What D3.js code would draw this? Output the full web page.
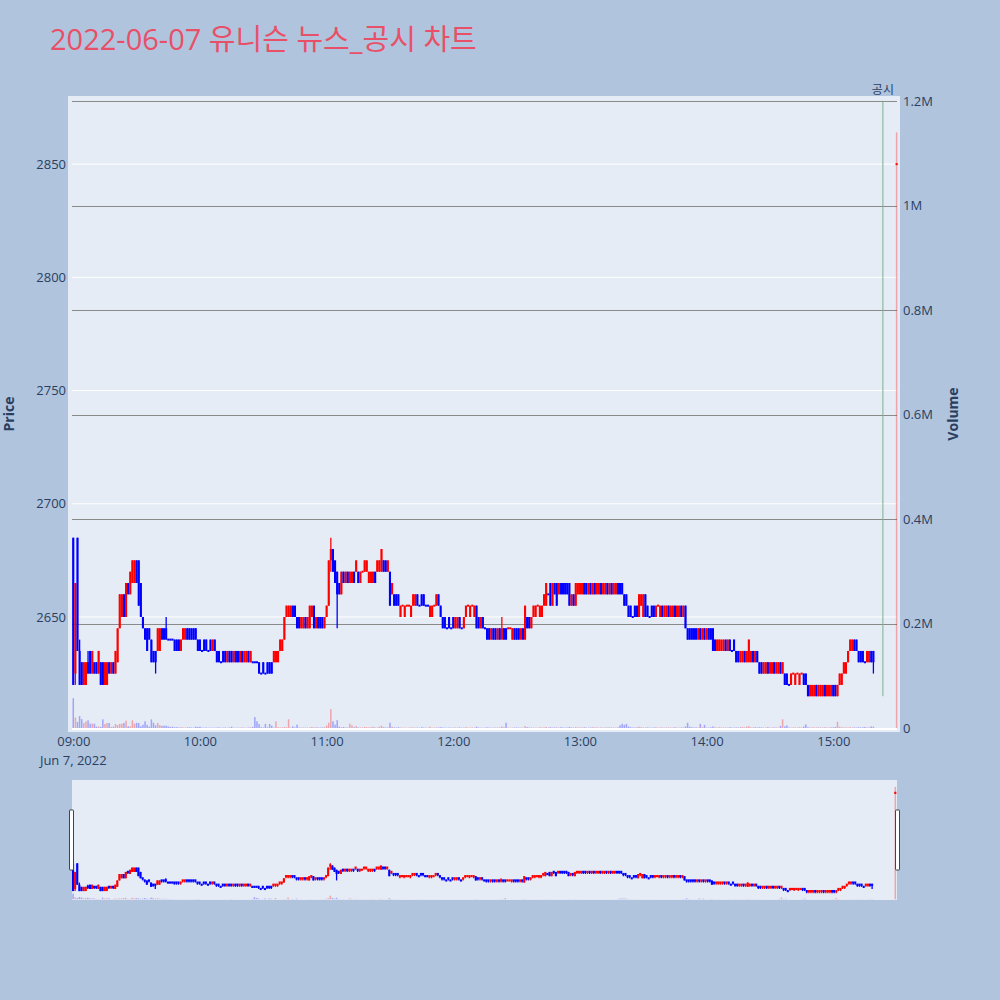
<!DOCTYPE html>
<html><head><meta charset="utf-8">
<script src="https://cdn.jsdelivr.net/npm/d3@7"></script>
<style>body{margin:0;background:#b0c4de;} svg{display:block;}</style>
</head><body><svg id="chart" width="1000" height="1000"></svg>
<script>
// ---------------- DATA ----------------
const titleText = "2022-06-07 유니슨 뉴스_공시 차트";
const sessionStart = "2022-06-07 09:00";
const opens = [
2685,2625,2685,2635,2630,2620,2620,2630,2635,2625, 2630,2630,2625,2630,2630,2620,2620,2630,2625,2630,
2625,2630,2645,2650,2660,2650,2665,2660,2665,2665, 2675,2675,2665,2650,2645,2645,2645,2640,2635,2635,
2635,2635,2645,2645,2645,2640,2640,2640,2640,2640, 2640,2635,2640,2640,2645,2645,2645,2645,2645,2640,
2640,2635,2640,2640,2635,2640,2635,2640,2635,2635, 2630,2635,2635,2630,2635,2635,2630,2635,2635,2630,
2635,2630,2630,2635,2630,2630,2630,2630,2630,2625, 2630,2625,2630,2630,2630,2630,2630,2630,2635,2635,
2640,2650,2650,2650,2655,2655,2650,2650,2645,2645, 2650,2645,2645,2650,2655,2645,2650,2650,2650,2645,
2650,2655,2675,2680,2675,2670,2665,2660,2670,2665, 2670,2665,2665,2670,2670,2670,2665,2670,2670,2670,
2665,2665,2665,2670,2670,2670,2670,2675,2675,2670, 2670,2660,2660,2660,2660,2650,2655,2650,2655,2655,
2650,2655,2655,2660,2655,2660,2660,2655,2655,2650, 2650,2655,2655,2660,2655,2650,2650,2645,2650,2645,
2650,2645,2645,2650,2645,2645,2650,2655,2650,2655, 2650,2655,2650,2645,2650,2645,2645,2645,2640,2645,
2645,2640,2645,2640,2645,2645,2645,2645,2640,2645, 2645,2645,2640,2645,2640,2650,2650,2645,2650,2650,
2655,2650,2650,2655,2655,2660,2665,2655,2665,2665, 2660,2665,2665,2665,2665,2665,2655,2660,2655,2660,
2660,2660,2665,2665,2660,2665,2660,2665,2660,2660, 2665,2660,2660,2665,2660,2665,2660,2660,2665,2665,
2665,2660,2660,2655,2655,2650,2655,2655,2650,2655, 2650,2660,2655,2650,2655,2655,2650,2655,2650,2655,
2650,2650,2655,2650,2650,2655,2650,2650,2655,2650, 2655,2645,2645,2645,2645,2645,2640,2645,2640,2645,
2640,2645,2645,2645,2640,2635,2635,2635,2635,2640, 2635,2640,2635,2640,2635,2635,2630,2630,2635,2630,
2630,2630,2635,2630,2635,2630,2630,2625,2625,2630, 2625,2625,2630,2625,2625,2630,2625,2625,2625,2620,
2620,2625,2620,2625,2620,2625,2625,2625,2620,2615, 2615,2615,2620,2615,2615,2615,2620,2615,2615,2615,
2620,2620,2615,2620,2620,2625,2625,2630,2635,2635, 2640,2640,2635,2635,2635,2630,2630,2630,2635,2635];
const highs = [
2685,2665,2685,2640,2630,2630,2630,2635,2635,2635, 2630,2630,2635,2630,2630,2630,2630,2630,2630,2630,
2635,2645,2660,2660,2660,2665,2665,2670,2675,2675, 2675,2675,2665,2650,2645,2645,2645,2640,2635,2635,
2645,2645,2645,2645,2650,2640,2640,2640,2640,2640, 2640,2640,2645,2645,2645,2645,2645,2645,2645,2640,
2640,2635,2640,2640,2635,2640,2640,2640,2635,2635, 2630,2635,2635,2635,2635,2635,2635,2635,2635,2635,
2635,2635,2635,2635,2635,2630,2630,2630,2630,2625, 2630,2625,2630,2630,2630,2635,2635,2635,2640,2640,
2650,2655,2655,2655,2655,2655,2650,2650,2650,2650, 2650,2650,2655,2655,2655,2650,2650,2650,2650,2650,
2655,2675,2685,2680,2675,2670,2665,2670,2670,2670, 2670,2670,2670,2670,2675,2670,2670,2670,2675,2675,
2670,2670,2670,2670,2675,2675,2680,2675,2675,2675, 2670,2665,2660,2660,2660,2655,2655,2655,2655,2655,
2655,2660,2660,2660,2655,2660,2660,2655,2655,2655, 2655,2655,2660,2660,2655,2650,2650,2645,2650,2645,
2650,2650,2650,2650,2645,2650,2655,2655,2655,2655, 2655,2655,2650,2650,2650,2645,2645,2645,2645,2645,
2645,2645,2645,2650,2645,2645,2645,2645,2645,2645, 2645,2645,2645,2645,2655,2650,2650,2650,2655,2655,
2655,2655,2655,2660,2665,2660,2665,2665,2665,2665, 2665,2665,2665,2665,2665,2665,2660,2660,2665,2665,
2665,2665,2665,2665,2665,2665,2665,2665,2665,2665, 2665,2665,2665,2665,2665,2665,2665,2665,2665,2665,
2665,2660,2660,2655,2655,2650,2655,2655,2660,2660, 2660,2660,2655,2650,2655,2655,2655,2655,2655,2655,
2655,2655,2655,2655,2655,2655,2655,2655,2655,2655, 2655,2645,2645,2645,2645,2645,2645,2645,2645,2645,
2645,2645,2645,2645,2640,2640,2640,2640,2640,2640, 2640,2640,2635,2640,2635,2635,2635,2635,2635,2635,
2640,2635,2635,2635,2635,2630,2630,2630,2630,2630, 2630,2630,2630,2630,2630,2630,2630,2625,2625,2620,
2625,2625,2625,2625,2625,2625,2625,2625,2620,2620, 2620,2620,2620,2620,2620,2620,2620,2620,2620,2620,
2620,2620,2620,2625,2625,2630,2630,2635,2640,2640, 2640,2640,2635,2635,2635,2630,2635,2635,2635,2635];
const lows = [
2620,2620,2635,2620,2620,2620,2620,2625,2625,2625, 2625,2625,2625,2620,2620,2620,2620,2625,2625,2625,
2625,2630,2645,2650,2650,2650,2660,2660,2665,2665, 2665,2655,2650,2645,2640,2635,2640,2630,2630,2625,
2635,2635,2640,2640,2640,2640,2640,2640,2635,2635, 2635,2635,2640,2640,2640,2640,2640,2640,2640,2635,
2635,2635,2635,2635,2635,2635,2635,2635,2630,2630, 2630,2630,2630,2630,2630,2630,2630,2630,2630,2630,
2630,2630,2630,2630,2630,2630,2630,2630,2625,2625, 2625,2625,2625,2625,2625,2630,2630,2630,2635,2635,
2640,2650,2650,2650,2650,2650,2645,2645,2645,2645, 2645,2645,2645,2650,2645,2645,2645,2645,2645,2645,
2650,2655,2670,2670,2665,2645,2660,2660,2665,2665, 2665,2665,2665,2665,2670,2665,2665,2670,2670,2670,
2665,2665,2665,2665,2670,2670,2670,2670,2670,2670, 2655,2660,2655,2655,2655,2650,2655,2650,2655,2655,
2650,2655,2655,2655,2655,2655,2655,2655,2655,2650, 2650,2655,2655,2655,2650,2645,2645,2645,2645,2645,
2645,2645,2645,2645,2645,2645,2650,2655,2650,2655, 2650,2645,2645,2645,2645,2645,2640,2640,2640,2640,
2640,2640,2640,2640,2640,2640,2645,2645,2640,2640, 2640,2640,2640,2640,2640,2645,2645,2645,2650,2650,
2655,2650,2650,2655,2655,2660,2655,2655,2660,2655, 2660,2660,2660,2660,2660,2655,2655,2655,2655,2660,
2660,2660,2660,2660,2660,2660,2660,2660,2660,2660, 2660,2660,2660,2660,2660,2660,2660,2660,2660,2660,
2660,2655,2655,2650,2650,2650,2650,2650,2650,2655, 2650,2650,2650,2650,2650,2650,2650,2655,2650,2650,
2650,2650,2650,2650,2650,2650,2650,2650,2650,2650, 2645,2640,2640,2640,2640,2640,2640,2640,2640,2640,
2640,2640,2640,2635,2635,2635,2635,2635,2635,2635, 2635,2635,2635,2635,2630,2630,2630,2630,2630,2630,
2630,2630,2630,2630,2630,2625,2625,2625,2625,2625, 2625,2625,2625,2625,2625,2625,2625,2620,2620,2620,
2620,2625,2620,2625,2620,2625,2620,2620,2615,2615, 2615,2615,2615,2615,2615,2615,2615,2615,2615,2615,
2615,2615,2615,2620,2620,2625,2625,2630,2635,2635, 2635,2635,2630,2630,2630,2630,2630,2630,2630,2625];
const closes = [
2620,2665,2635,2620,2620,2630,2630,2625,2625,2635, 2625,2625,2635,2620,2620,2630,2630,2625,2630,2625,
2635,2645,2660,2660,2650,2665,2660,2670,2675,2675, 2665,2655,2650,2645,2640,2635,2640,2630,2630,2630,
2645,2645,2640,2640,2640,2640,2640,2640,2635,2635, 2635,2640,2645,2645,2640,2640,2640,2640,2640,2635,
2635,2635,2635,2635,2635,2635,2640,2635,2630,2630, 2630,2630,2630,2635,2630,2630,2635,2630,2630,2635,
2630,2635,2635,2630,2635,2630,2630,2630,2625,2625, 2625,2625,2625,2625,2625,2635,2635,2635,2640,2640,
2650,2655,2655,2655,2650,2650,2645,2645,2650,2650, 2645,2650,2655,2655,2645,2650,2645,2645,2645,2650,
2655,2675,2680,2670,2665,2660,2660,2670,2665,2670, 2665,2670,2670,2665,2675,2665,2670,2670,2675,2675,
2670,2670,2670,2665,2675,2675,2680,2670,2670,2675, 2655,2665,2655,2655,2655,2655,2655,2655,2655,2655,
2655,2660,2660,2655,2655,2655,2655,2655,2655,2655, 2655,2655,2660,2655,2650,2645,2645,2645,2645,2645,
2645,2650,2650,2645,2645,2650,2655,2655,2655,2655, 2655,2645,2645,2650,2645,2645,2640,2640,2645,2640,
2640,2645,2640,2645,2640,2640,2645,2645,2645,2640, 2640,2640,2645,2640,2655,2645,2645,2650,2655,2655,
2655,2655,2655,2660,2665,2660,2655,2665,2660,2655, 2665,2660,2660,2660,2660,2655,2660,2655,2665,2665,
2665,2665,2660,2660,2665,2660,2665,2660,2665,2665, 2660,2665,2665,2660,2665,2660,2665,2665,2660,2660,
2660,2655,2655,2650,2650,2650,2650,2650,2660,2660, 2660,2650,2650,2650,2650,2650,2655,2655,2655,2650,
2655,2655,2650,2655,2655,2650,2655,2655,2650,2655, 2645,2640,2640,2640,2640,2640,2645,2640,2645,2640,
2645,2640,2640,2635,2635,2640,2640,2640,2640,2635, 2640,2635,2635,2635,2630,2630,2635,2635,2630,2635,
2640,2635,2630,2635,2630,2625,2625,2630,2630,2625, 2630,2630,2625,2630,2630,2625,2630,2620,2620,2620,
2625,2625,2625,2625,2625,2625,2620,2620,2615,2620, 2620,2620,2615,2620,2620,2620,2615,2620,2620,2620,
2615,2615,2620,2625,2625,2630,2630,2635,2640,2640, 2635,2635,2630,2630,2630,2630,2635,2635,2630,2630];
const volumes = [
57000,20000,11500,23000,17000,9600,12800,14700,8300,8300, 8300,2500,3000,2000,16600,7700,9600,9600,2000,2500,
7700,5700,7700,8300,9600,14000,3200,3200,14700,8300, 10000,9600,3200,6400,12800,6000,2500,16600,10000,5100,
10000,5700,4000,4500,4500,3000,2000,2500,1500,1500, 1000,1500,1200,800,1000,1500,900,700,2500,2000,
2500,800,600,1000,500,700,900,600,800,1200, 500,700,1000,600,900,2500,700,500,600,800,
1000,700,600,900,1200,2000,21000,12800,7700,1500, 1000,7700,1200,7700,4500,1000,12800,1500,900,1100,
2000,1500,16600,1000,3200,1200,6400,900,800,1000, 700,600,1200,2000,900,1500,1000,800,1200,1500,
4500,10000,36000,12800,6400,15000,2500,1500,2000,1200, 1000,8300,5000,1500,3500,1200,1000,900,2000,1500,
1200,1500,2500,1000,900,2500,4500,1500,1000,1200, 10000,2500,1200,800,1500,900,600,700,500,800,
1200,1000,700,900,500,1500,1000,600,500,2500, 700,800,1200,900,1500,1000,700,500,900,500,
800,1000,700,1200,600,900,1500,800,700,1000, 600,2500,1000,800,500,700,1200,900,800,600,
700,1000,800,3000,1200,10000,600,500,800,900, 1000,700,800,600,3500,1500,1000,800,900,700,
600,1500,800,1200,2000,700,1500,1000,1200,900, 800,1500,1000,700,900,2000,1200,800,1500,1000,
1200,900,1500,800,700,1000,1500,900,1200,800, 1000,700,1200,800,1500,900,1000,700,1200,5000,
8000,6000,8000,3000,1500,1000,900,1200,2500,1500, 1000,800,1200,700,600,1000,1500,800,1000,900,
700,1200,800,1000,900,1500,700,800,1000,1200, 3000,10000,2500,1500,1000,1200,900,8000,1500,6000,
1000,800,1200,3000,1000,800,1500,1200,900,700, 1000,1500,800,700,1200,900,1500,2000,1000,2500,
3500,1200,1000,2000,900,1500,1200,800,1000,1500, 700,900,1200,1000,800,4000,16600,3000,5000,1000,
800,1200,1000,900,1500,1000,3000,7000,1500,900, 1200,1000,800,1500,900,1000,1200,800,1000,1500,
1200,2000,12000,2500,1500,1000,1200,900,1500,1000, 1200,800,1500,1000,1200,2000,900,1500,3000,2500];
// closing auction
const auctionTime = "2022-06-07 15:30";
const auctionOpen = 2850, auctionHigh = 2850, auctionLow = 2850, auctionClose = 2850;
const auctionVolume = 1140000;
// news marker
const newsTime = "2022-06-07 15:23:30";
const newsLabel = "공시";
const newsLineLow = 2615;
const newsLineHigh = 2878;
// axes
const priceTicks = [2650, 2700, 2750, 2800, 2850];
const volumeTicks = [0, 200000, 400000, 600000, 800000, 1000000, 1200000];
const volumeTickLabels = ["0", "0.2M", "0.4M", "0.6M", "0.8M", "1M", "1.2M"];
const hourTicks = ["09:00", "10:00", "11:00", "12:00", "13:00", "14:00", "15:00"];
const dateLabel = "Jun 7, 2022";
const xDomain = ["2022-06-07 08:57:30", "2022-06-07 15:31:36"];
const sliderDomain = ["2022-06-07 08:59:30", "2022-06-07 15:30:48"];
const priceDomain = [2599.2, 2880.1];
const volumeDomain = [-7660, 1209600];

// ---------------- BUILD ----------------
const parseM = d3.timeParse("%Y-%m-%d %H:%M");
const parseS = d3.timeParse("%Y-%m-%d %H:%M:%S");
const start = parseM(sessionStart);
const data = opens.map((o, i) => ({
  t: d3.timeMinute.offset(start, i), o, h: highs[i], l: lows[i], c: closes[i], v: volumes[i]
}));
data.push({t: parseM(auctionTime), o: auctionOpen, h: auctionHigh, l: auctionLow, c: auctionClose, v: auctionVolume});
// plotly-style direction: equal open/close -> compare with previous close
let prevC = null, prevDir = true;
data.forEach(d => {
  let inc;
  if (d.c > d.o) inc = true; else if (d.c < d.o) inc = false;
  else if (prevC !== null && d.c > prevC) inc = true;
  else if (prevC !== null && d.c < prevC) inc = false;
  else inc = prevDir;
  d.inc = inc; prevDir = inc; prevC = d.c;
});

const INC = "#ff0000", DEC = "#0000ff";
const FONT = "'Open Sans', 'Noto Sans CJK KR', sans-serif";
const TXT = "#2a3f5f";
const TICKSIZE = 13;

const svg = d3.select("#chart");
svg.append("rect").attr("width", 1000).attr("height", 1000).attr("fill", "#b0c4de");

// title
svg.append("text").attr("x", 50).attr("y", 50).attr("font-family", FONT).attr("font-size", 29)
  .attr("fill", "rgb(232,80,104)").text(titleText);

// main plot
const PL = 68, PR = 900, PT = 96, PB = 732;
const x = d3.scaleTime().domain(xDomain.map(s => parseS(s))).range([PL, PR]);
const yP = d3.scaleLinear().domain(priceDomain).range([PB, PT]);
const yV = d3.scaleLinear().domain(volumeDomain).range([PB, PT]);

svg.append("rect").attr("x", PL).attr("y", PT).attr("width", PR - PL).attr("height", PB - PT).attr("fill", "#e5ecf6");
svg.append("defs").append("clipPath").attr("id", "clipMain").append("rect")
  .attr("x", PL).attr("y", PT).attr("width", PR - PL).attr("height", PB - PT);
svg.select("defs").append("clipPath").attr("id", "clipSlider").append("rect")
  .attr("x", 72).attr("y", 780).attr("width", 825).attr("height", 120);

// grid: price (white)
const grid = svg.append("g");
grid.selectAll("line.pg").data(priceTicks).join("line").attr("class", "pg")
  .attr("x1", 72).attr("x2", 897).attr("y1", d => yP(d)).attr("y2", d => yP(d))
  .attr("stroke", "#ffffff").attr("stroke-width", 1);
// grid: volume (gray) except zero
grid.selectAll("line.vg").data(volumeTicks.filter(v => v > 0)).join("line").attr("class", "vg")
  .attr("x1", 72).attr("x2", 897).attr("y1", d => Math.round(yV(d)) + 0.5).attr("y2", d => Math.round(yV(d)) + 0.5)
  .attr("stroke", "#8a8a8a").attr("stroke-width", 1.2);
grid.append("line").attr("x1", 72).attr("x2", 897).attr("y1", yV(0) + 1).attr("y2", yV(0) + 1)
  .attr("stroke", "#ffffff").attr("stroke-width", 2);

function drawMarks(g, xs, yp, yv, bodyW, volW, minH) {
  g.selectAll("rect.vol").data(data).join("rect").attr("class", "vol")
    .attr("x", d => xs(d.t) - volW / 2).attr("width", volW)
    .attr("y", d => yv(d.v)).attr("height", d => Math.max(0, yv(0) - yv(d.v)))
    .attr("fill", d => d.inc ? INC : DEC).attr("fill-opacity", 0.3);
  g.selectAll("line.wick").data(data).join("line").attr("class", "wick")
    .attr("x1", d => xs(d.t)).attr("x2", d => xs(d.t))
    .attr("y1", d => yp(d.h)).attr("y2", d => yp(d.l))
    .attr("stroke", d => d.inc ? INC : DEC).attr("stroke-width", 1.3);
  g.selectAll("rect.body").data(data).join("rect").attr("class", "body")
    .attr("x", d => xs(d.t) - bodyW / 2).attr("width", bodyW)
    .attr("y", d => Math.min(yp(d.o), yp(d.c)) - (Math.abs(yp(d.o) - yp(d.c)) < minH ? minH / 2 : 0))
    .attr("height", d => Math.max(minH, Math.abs(yp(d.o) - yp(d.c))))
    .attr("fill", d => d.inc ? INC : DEC);
}

const marks = svg.append("g").attr("clip-path", "url(#clipMain)");
drawMarks(marks, x, yP, yV, 2.1, 1.5, 2);

// news line
const xn = x(parseS(newsTime));
svg.append("line").attr("x1", xn).attr("x2", xn).attr("y1", yP(newsLineHigh)).attr("y2", yP(newsLineLow))
  .attr("stroke", "rgb(125,175,140)").attr("stroke-width", 1);
svg.append("text").attr("x", xn).attr("y", 94).attr("text-anchor", "middle").attr("font-family", FONT)
  .attr("font-size", 12).attr("fill", TXT).text(newsLabel);

// left axis
const axL = svg.append("g").attr("transform", `translate(${PL - 2},0)`)
  .call(d3.axisLeft(yP).tickValues(priceTicks).tickSize(0).tickPadding(0).tickFormat(d3.format("d")));
axL.select(".domain").remove();
axL.selectAll("text").attr("font-family", FONT).attr("font-size", TICKSIZE).attr("fill", TXT);

// right axis
const axR = svg.append("g").attr("transform", `translate(${903},0)`)
  .call(d3.axisRight(yV).tickValues(volumeTicks).tickSize(0).tickPadding(0)
    .tickFormat((d, i) => volumeTickLabels[i]));
axR.select(".domain").remove();
axR.selectAll("text").attr("font-family", FONT).attr("font-size", TICKSIZE).attr("fill", TXT);

// bottom axis
const hourDates = hourTicks.map(h => parseM("2022-06-07 " + h));
const axB = svg.append("g").attr("transform", `translate(0,${PB})`)
  .call(d3.axisBottom(x).tickValues(hourDates).tickSize(0).tickPadding(5).tickFormat((d, i) => hourTicks[i]));
axB.select(".domain").remove();
axB.selectAll("text").attr("font-family", FONT).attr("font-size", TICKSIZE).attr("fill", TXT);
svg.append("text").attr("x", x(hourDates[0])).attr("y", 765).attr("text-anchor", "middle")
  .attr("font-family", FONT).attr("font-size", TICKSIZE).attr("fill", TXT).text(dateLabel);

// axis titles
svg.append("text").attr("transform", "translate(14,414) rotate(-90)").attr("text-anchor", "middle")
  .attr("font-family", FONT).attr("font-size", 14).attr("font-weight", "bold").attr("fill", TXT).text("Price");
svg.append("text").attr("transform", "translate(958,414) rotate(-90)").attr("text-anchor", "middle")
  .attr("font-family", FONT).attr("font-size", 14).attr("font-weight", "bold").attr("fill", TXT).text("Volume");

// range slider
const xs = d3.scaleTime().domain(sliderDomain.map(s => parseS(s))).range([72, 897]);
const ysP = d3.scaleLinear().domain(priceDomain).range([900, 780]);
const ysV = d3.scaleLinear().domain(volumeDomain).range([900, 780]);
svg.append("rect").attr("x", 72).attr("y", 780).attr("width", 825).attr("height", 120).attr("fill", "#e5ecf6");
const smarks = svg.append("g").attr("clip-path", "url(#clipSlider)");
drawMarks(smarks, xs, ysP, ysV, 2.1, 1.5, 2.2);
[[69.5, 810], [895.5, 810]].forEach(([hx, hy]) => {
  svg.append("rect").attr("x", hx).attr("y", hy).attr("width", 4).attr("height", 60)
    .attr("fill", "#ffffff").attr("stroke", "#444").attr("stroke-width", 1).attr("rx", 0.5);
});
</script></body></html>
